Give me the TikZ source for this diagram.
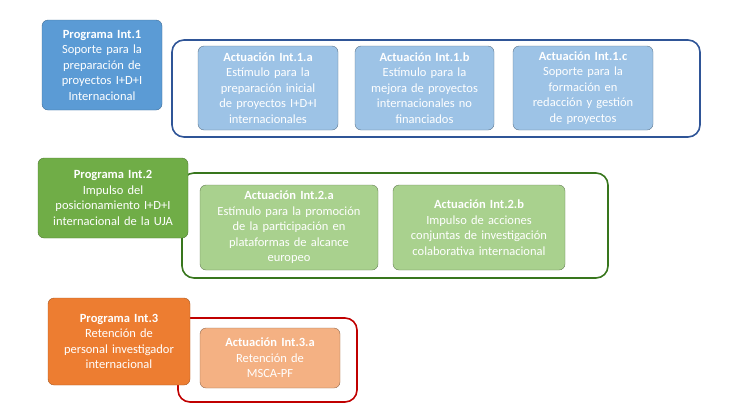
\documentclass[tikz,border=0pt]{standalone}
\usepackage{fontspec}
\setmainfont{Carlito}
\usetikzlibrary{positioning}
\definecolor{progA}{HTML}{5B9BD5}
\definecolor{progB}{HTML}{70AD47}
\definecolor{progC}{HTML}{ED7D31}
\definecolor{actA}{HTML}{9DC3E6}
\definecolor{actB}{HTML}{A9D18E}
\definecolor{actC}{HTML}{F4B183}
\definecolor{lineA}{HTML}{2F5597}
\definecolor{lineB}{HTML}{38761D}
\definecolor{lineC}{HTML}{C00000}
\begin{document}
\begin{tikzpicture}[x=1pt,y=-1pt,
  prog/.style={rounded corners=6pt,draw=#1!70!black,fill=#1,text=white,align=center,font=\fontsize{12.5}{15.5}\selectfont,inner sep=1pt},
  act/.style={rounded corners=6pt,draw=#1!60!black,fill=#1,text=white,align=center,font=\fontsize{12.5}{15.5}\selectfont,inner sep=1pt},
  frame/.style={rounded corners=12pt,draw=#1,line width=1.6pt}]
\useasboundingbox (0,0) rectangle (733,413);
\draw[frame=lineA] (172,40) rectangle (700,137);
\draw[frame=lineB] (182,173) rectangle (608,278);
\draw[frame=lineC] (178,318) rectangle (357,402);
\node[prog=progA,minimum width=120pt,minimum height=90pt,text width=118pt] (p1) at (102,65)
  {\textbf{Programa Int.1}\\Soporte para la\\preparación de\\proyectos I+D+I\\Internacional};
\node[act=actA,minimum width=140pt,minimum height=84pt,text width=138pt] (a1) at (268,88)
  {\textbf{Actuación Int.1.a}\\Estímulo para la\\preparación inicial\\de proyectos I+D+I\\internacionales};
\node[act=actA,minimum width=139pt,minimum height=84pt,text width=137pt] (b1) at (424.5,88)
  {\textbf{Actuación Int.1.b}\\Estímulo para la\\mejora de proyectos\\internacionales no\\financiados};
\node[act=actA,minimum width=140pt,minimum height=84pt,text width=138pt] (c1) at (583,88)
  {\textbf{Actuación Int.1.c}\\Soporte para la\\formación en\\redacción y gestión\\de proyectos};
\node[prog=progB,minimum width=150pt,minimum height=80pt,text width=148pt] (p2) at (113,198)
  {\textbf{Programa Int.2}\\Impulso del\\posicionamiento I+D+I\\internacional de la UJA};
\node[act=actB,minimum width=178pt,minimum height=85pt,text width=176pt] (a2) at (289,227.5)
  {\textbf{Actuación Int.2.a}\\Estímulo para la promoción\\de la participación en\\plataformas de alcance\\europeo};
\node[act=actB,minimum width=172pt,minimum height=85pt,text width=170pt] (b2) at (479,227.5)
  {\textbf{Actuación Int.2.b}\\Impulso de acciones\\conjuntas de investigación\\colaborativa internacional};
\node[prog=progC,minimum width=142pt,minimum height=87pt,text width=140pt] (p3) at (119,341.5)
  {\textbf{Programa Int.3}\\Retención de\\personal investigador\\internacional};
\node[act=actC,minimum width=140pt,minimum height=60pt,text width=138pt] (a3) at (270,358)
  {\textbf{Actuación Int.3.a}\\Retención de\\MSCA-PF};
\end{tikzpicture}
\end{document}
